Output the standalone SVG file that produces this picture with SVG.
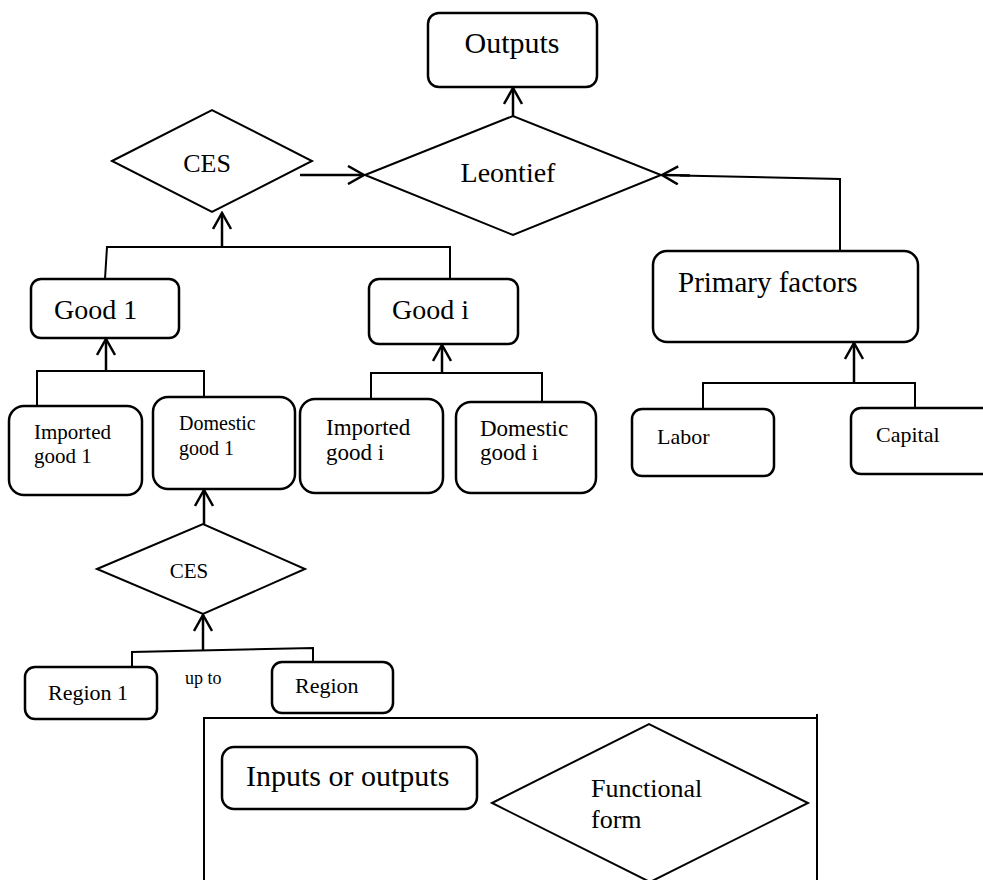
<svg xmlns="http://www.w3.org/2000/svg" width="983" height="880" viewBox="0 0 983 880">
<style>
.box{fill:#fff;stroke:#000;stroke-width:2.5}
.dia{fill:#fff;stroke:#000;stroke-width:2}
.con{fill:none;stroke:#000;stroke-width:2}
.arr{fill:none;stroke:#000;stroke-width:2.5;marker-end:url(#v)}
text{font-family:"Liberation Serif","Times New Roman",serif;fill:#000}
</style>
<defs>
<marker id="v" viewBox="0 0 20 20" refX="18" refY="10" markerWidth="20" markerHeight="20" markerUnits="userSpaceOnUse" orient="auto">
<path d="M2,1 L18,10 L2,19" fill="none" stroke="#000" stroke-width="2.5"/>
</marker>
</defs>
<rect width="983" height="880" fill="#fff"/>

<g id="connectors">
<line class="arr" x1="513" y1="116" x2="513" y2="88"/>
<line class="arr" x1="300" y1="175" x2="364" y2="175"/>
<polyline class="con" points="840,250 840,179 680,175.4"/>
<line class="arr" x1="690" y1="175.6" x2="662" y2="175"/>
<polyline class="con" points="105,279 107,247 450,247 450,279"/>
<line class="arr" x1="222" y1="247" x2="222" y2="213"/>
<polyline class="con" points="37,406 37,371 204,371 204,397"/>
<line class="arr" x1="106" y1="371" x2="106" y2="339"/>
<polyline class="con" points="371,399 371,373 542,373 542,401"/>
<line class="arr" x1="442" y1="373" x2="442" y2="345"/>
<polyline class="con" points="703,408 703,383 915,383 915,407"/>
<line class="arr" x1="854" y1="383" x2="854" y2="343"/>
<line class="arr" x1="204" y1="524" x2="204" y2="490"/>
<polyline class="con" points="132,667 132,652 313,648 313,662"/>
<line class="arr" x1="203" y1="650" x2="203" y2="615"/>
</g>

<g id="outputs"><rect class="box" x="428" y="13" width="169" height="74" rx="11"/><text x="512" y="53" font-size="30" text-anchor="middle">Outputs</text></g>
<g id="leontief"><polygon class="dia" points="365,175 513,116 661,175 513,235"/><text x="508" y="182" font-size="28" text-anchor="middle">Leontief</text></g>
<g id="ces-top"><polygon class="dia" points="112,161 212,110 312,161 212,212"/><text x="207" y="172" font-size="26" text-anchor="middle">CES</text></g>
<g id="good1"><rect class="box" x="31" y="279" width="148" height="59" rx="10"/><text x="54" y="319" font-size="28">Good 1</text></g>
<g id="goodi"><rect class="box" x="369" y="279" width="149" height="65" rx="10"/><text x="392" y="319" font-size="28">Good i</text></g>
<g id="primary"><rect class="box" x="653" y="251" width="265" height="91" rx="14"/><text x="678" y="292" font-size="29">Primary factors</text></g>
<g id="imported1"><rect class="box" x="9" y="406" width="133" height="89" rx="15"/><text x="34" y="439" font-size="21">Imported</text><text x="34" y="463" font-size="21">good 1</text></g>
<g id="domestic1"><rect class="box" x="153" y="397" width="142" height="92" rx="15"/><text x="179" y="430" font-size="20">Domestic</text><text x="179" y="455" font-size="20">good 1</text></g>
<g id="importedi"><rect class="box" x="300" y="399" width="143" height="94" rx="15"/><text x="326" y="435" font-size="23">Imported</text><text x="326" y="460" font-size="23">good i</text></g>
<g id="domestici"><rect class="box" x="456" y="402" width="140" height="91" rx="15"/><text x="480" y="436" font-size="23">Domestic</text><text x="480" y="460" font-size="23">good i</text></g>
<g id="labor"><rect class="box" x="632" y="409" width="142" height="67" rx="10"/><text x="657" y="444" font-size="22">Labor</text></g>
<g id="capital"><rect class="box" x="851" y="408" width="150" height="66" rx="10"/><text x="876" y="442" font-size="22">Capital</text></g>
<g id="ces-low"><polygon class="dia" points="97,569 203,524 305,569 203,614"/><text x="189" y="578" font-size="21" text-anchor="middle">CES</text></g>
<g id="region1"><rect class="box" x="25" y="667" width="132" height="52" rx="10"/><text x="48" y="700" font-size="22">Region 1</text></g>
<text id="upto" x="185" y="684" font-size="18">up to</text>
<g id="region"><rect class="box" x="272" y="662" width="121" height="51" rx="10"/><text x="295" y="693" font-size="22">Region</text></g>

<g id="legend">
<path class="con" d="M204,882 V718 H817"/>
<line class="con" x1="817" y1="714" x2="817" y2="882"/>
<g id="legend-io"><rect class="box" x="222" y="747" width="255" height="62" rx="12"/><text x="246" y="786" font-size="30">Inputs or outputs</text></g>
<g id="legend-ff"><polygon class="dia" points="492,803 649,724 808,803 650,882"/><text x="591" y="797" font-size="26">Functional</text><text x="591" y="828" font-size="26">form</text></g>
</g>
</svg>
